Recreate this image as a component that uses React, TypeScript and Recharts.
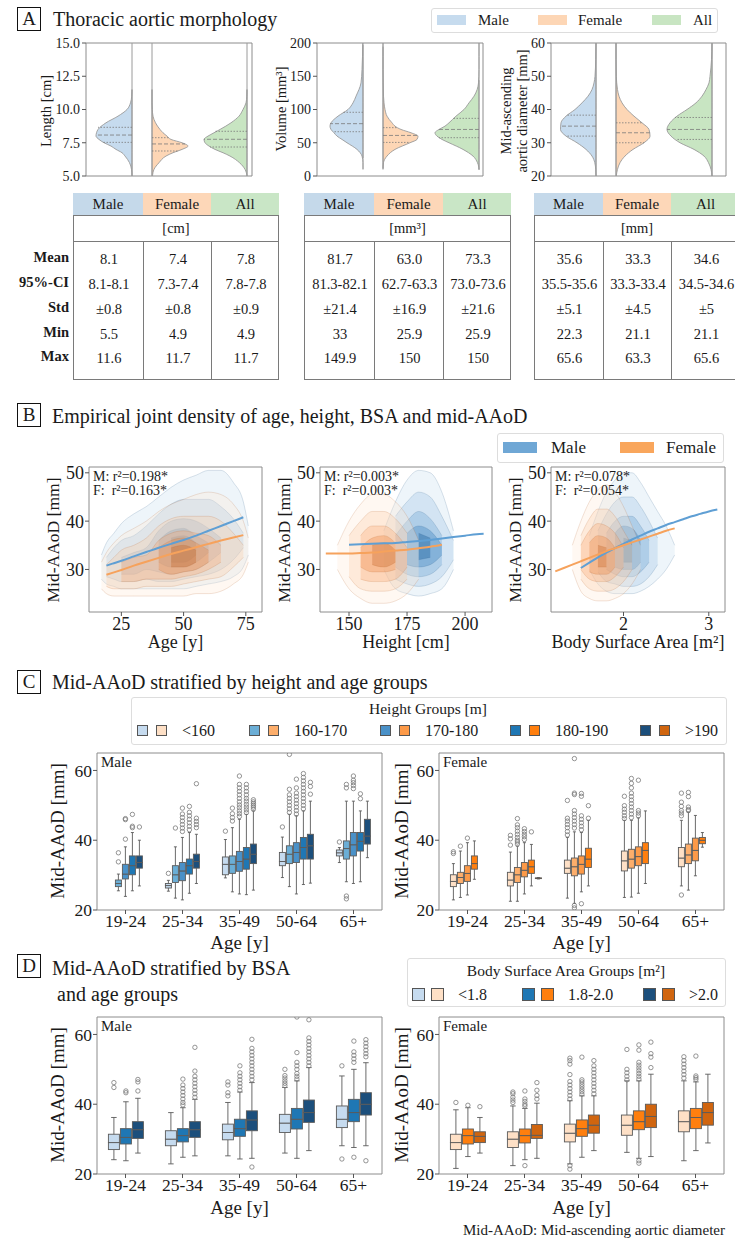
import React from "react";
import { Area, Bar, BarChart, ComposedChart, Line, ReferenceArea, ReferenceLine, XAxis, YAxis } from "recharts";

const FONT = '"Liberation Serif", "Times New Roman", serif';
const INK = "#1a1a1a";
const FRAME = "#8c8c8c";
const EDGE = "#5a5a5a";

// ---------- A: violins (half-widths, in plot px) ----------
const lengthY = [5.0, 5.5, 6.0, 6.5, 6.75, 7.0, 7.25, 7.5, 7.75, 8.0, 8.25, 8.5, 9.0, 9.5, 10.0, 10.5, 11.0, 11.5];
const lengthMale = [0, 0.5, 2.5, 7, 10, 16, 21, 28, 33, 36, 35.5, 34, 26, 14, 5, 1.5, 0.3, 0];
const lengthFemale = [0.5, 2, 7, 14, 21, 30, 36, 30, 19, 15, 11, 8, 3.5, 1, 0.3, 0, 0, 0];
const lengthAll = [0, 2, 7.5, 17, 24, 32, 38, 42, 43, 39, 33, 27, 16, 8, 4, 1, 0.2, 0];
const lengthQuart = [[7.53, 8.08, 8.66], [6.88, 7.41, 7.88], [7.18, 7.76, 8.36]];
const lengthQuartW = [[29, 36, 34], [26, 33, 17], [37, 43, 32]];

const volumeY = [10, 20, 30, 40, 50, 55, 60, 65, 70, 75, 80, 90, 100, 110, 120, 140, 160, 180, 200];
const volumeMale = [0, 0, 1, 6, 16, 21, 26, 29, 32, 33, 32, 25, 15, 10, 7, 2, 1, 0.5, 0.3];
const volumeFemale = [0, 0.5, 4, 12, 27, 34, 35, 28, 18, 12, 9, 4, 2, 1, 0.5, 0.2, 0, 0, 0];
const volumeAll = [0, 1.5, 6, 16, 30, 37, 42, 44, 40, 34, 30, 23, 15, 10, 5, 0.5, 0, 0, 0];
const volumeQuart = [[66.6, 78.7, 95.8], [50.5, 61, 72.7], [57.6, 70, 86.7]];
const volumeQuartW = [[30, 33, 20], [27, 35, 15], [40, 40, 26]];

const diamY = [20, 22, 24, 26, 28, 30, 32, 34, 36, 38, 40, 42, 44, 46, 48, 50, 55, 60];
const diamMale = [0, 0.3, 1.2, 4, 10, 19, 30, 35.5, 35, 30, 21, 14, 8, 4, 2, 1, 0.3, 0];
const diamFemale = [0.3, 1.5, 4, 9, 17, 28, 34, 33, 26, 18, 11, 6, 3, 1.5, 0.7, 0.3, 0, 0];
const diamAll = [0, 1, 3.5, 8, 18, 32, 41, 45, 42, 35, 25, 16, 10, 6, 3, 2, 0.5, 0];
const diamQuart = [[32, 35, 38.3], [30, 33, 36], [31, 34, 37.6]];
const diamQuartW = [[30, 35, 29], [28, 34, 26], [36, 45, 37]];

// ---------- A: tables ----------
const tableHeads = ["Male", "Female", "All"];
const rowLabels = ["Mean", "95%-CI", "Std", "Min", "Max"];
const lengthStats = [["8.1", "7.4", "7.8"], ["8.1-8.1", "7.3-7.4", "7.8-7.8"], ["±0.8", "±0.8", "±0.9"], ["5.5", "4.9", "4.9"], ["11.6", "11.7", "11.7"]];
const volumeStats = [["81.7", "63.0", "73.3"], ["81.3-82.1", "62.7-63.3", "73.0-73.6"], ["±21.4", "±16.9", "±21.6"], ["33", "25.9", "25.9"], ["149.9", "150", "150"]];
const diamStats = [["35.6", "33.3", "34.6"], ["35.5-35.6", "33.3-33.4", "34.5-34.6"], ["±5.1", "±4.5", "±5"], ["22.3", "21.1", "21.1"], ["65.6", "63.3", "65.6"]];

// ---------- B: density bands [x, low, high], outer level first ----------
const ageGrid = [17, 19, 22, 25, 30, 35, 40, 45, 50, 55, 60, 65, 70, 74, 76];
const ageMale = [
  [[17, 28, 33], [19, 27, 35.5], [22, 26.5, 37.5], [25, 26, 39.5], [30, 26, 41.5], [35, 26, 43], [40, 26, 45], [45, 26, 47], [50, 26, 48.5], [55, 26.5, 49.5], [60, 27, 50.5], [65, 27.5, 50.5], [70, 28.5, 48], [74, 30.5, 44], [76, 33, 39]],
  [[19, 28.5, 32.5], [22, 28, 34.5], [25, 27.5, 36], [30, 27.5, 37], [35, 28, 39], [40, 27.5, 41.5], [45, 27.5, 43.5], [50, 28, 44.5], [55, 28.5, 44.5], [60, 29, 44.5], [65, 30, 43], [70, 32, 40.5], [74, 34.5, 37.5]],
  [[25, 29, 32.5], [30, 29, 33.5], [35, 30, 34.5], [40, 29.5, 38], [45, 29, 40], [50, 29.5, 40.5], [55, 30, 40], [60, 31.5, 38.5], [65, 33.5, 36.5]],
  [[40, 31.5, 36], [45, 30.5, 38], [50, 30.5, 38.5], [55, 31.5, 37], [60, 33.5, 35.5]],
  [[45, 31.5, 36.5], [50, 31.5, 37], [55, 33, 35.5]],
];
const ageFemale = [
  [[17, 26, 31.5], [19, 25, 33.5], [22, 24.5, 35.5], [25, 24.5, 37], [30, 24.5, 38.5], [35, 24.5, 40], [40, 24.5, 42], [45, 24.5, 43.5], [50, 24.5, 44.5], [55, 25, 45.5], [60, 25, 46], [65, 25.5, 45.5], [70, 27, 43.5], [74, 29, 40], [76, 31.5, 36.5]],
  [[19, 26.5, 31], [22, 26, 32.5], [25, 26, 34], [30, 26, 35], [35, 26.5, 36.5], [40, 26.5, 39], [45, 26.5, 40.5], [50, 27, 41], [55, 27.5, 41], [60, 28, 41], [65, 28.5, 40], [70, 30.5, 37.5], [74, 32.5, 35]],
  [[25, 27.5, 31.5], [30, 27.5, 32.5], [35, 28, 33], [40, 28, 36], [45, 28, 37.5], [50, 28.5, 38], [55, 29, 37.5], [60, 30, 37], [65, 31.5, 35]],
  [[40, 30, 34.5], [45, 29, 36], [50, 29.5, 36.5], [55, 30, 35.5], [60, 31.5, 34]],
  [[45, 30.5, 34.5], [50, 30.5, 35], [55, 31.5, 34]],
];
const ageFitMale = [[19, 30.8], [22, 31.3], [25, 31.8], [30, 32.7], [35, 33.6], [40, 34.5], [45, 35.3], [50, 36.1], [55, 37.0], [60, 38.0], [65, 39.0], [70, 40.0], [74, 40.8]];
const ageFitFemale = [[19, 28.9], [22, 29.4], [25, 29.9], [30, 30.8], [35, 31.6], [40, 32.4], [45, 33.2], [50, 33.9], [55, 34.6], [60, 35.3], [65, 36.0], [70, 36.6], [74, 37.1]];

const heightGrid = [140, 143, 145, 150, 155, 160, 165, 170, 175, 180, 185, 190, 195, 200, 205, 208];
const heightMale = [
  [[165, 30, 38], [170, 26, 44], [175, 25, 48.5], [180, 24.5, 50.5], [185, 25, 50], [190, 26, 46], [195, 30, 38]],
  [[170, 28, 41], [175, 27, 44], [180, 26.5, 46], [185, 27, 45], [190, 28.5, 41], [195, 32, 36]],
  [[170, 30.5, 37], [175, 29, 40], [180, 28.5, 42], [185, 29, 40.5], [190, 31, 37]],
  [[175, 31, 37.5], [180, 30.5, 39], [185, 31, 38], [190, 33, 35]],
  [[180, 32, 37.5], [185, 32.5, 36.5]],
];
const heightFemale = [
  [[145, 30, 35], [150, 26, 40], [155, 24, 43.5], [160, 23, 45.5], [165, 23, 45.5], [170, 23.5, 44], [175, 25, 41], [180, 28, 36]],
  [[150, 28.5, 37], [155, 26, 40], [160, 25.5, 42], [165, 25.5, 42], [170, 26, 40.5], [175, 28, 37.5]],
  [[155, 28, 37], [160, 27.5, 39], [165, 27.5, 39], [170, 28, 37.5], [175, 30.5, 34.5]],
  [[155, 30.5, 34.5], [160, 29.5, 36.5], [165, 29.5, 37], [170, 30, 35.5]],
  [[160, 31, 35], [165, 30.5, 35.5], [170, 31.5, 34]],
];
const heightFitMale = [[150, 35.1], [155, 35.2], [160, 35.3], [165, 35.4], [170, 35.5], [175, 35.7], [180, 35.9], [185, 36.1], [190, 36.4], [195, 36.7], [200, 37.0], [205, 37.3], [208, 37.4]];
const heightFitFemale = [[140, 33.3], [143, 33.3], [145, 33.3], [150, 33.3], [155, 33.4], [160, 33.5], [165, 33.7], [170, 33.9], [175, 34.1], [180, 34.4], [185, 34.7], [190, 35.1]];

const bsaGrid = [1.2, 1.3, 1.4, 1.5, 1.6, 1.7, 1.8, 1.9, 2.0, 2.1, 2.2, 2.3, 2.4, 2.5, 2.6, 2.7, 2.8, 2.9, 3.0, 3.1];
const bsaMale = [
  [[1.6, 30, 37], [1.7, 27, 42], [1.8, 25.5, 46], [1.9, 25, 48.5], [2.0, 25, 50], [2.1, 25, 50], [2.2, 25.5, 48], [2.3, 26.5, 45], [2.4, 28, 42], [2.5, 30, 39], [2.6, 33, 35]],
  [[1.7, 29.5, 38], [1.8, 27.5, 41.5], [1.9, 27, 44], [2.0, 26.5, 45], [2.1, 26.5, 45], [2.2, 27, 43], [2.3, 28.5, 40], [2.4, 31, 36.5]],
  [[1.8, 30, 37.5], [1.9, 29, 40], [2.0, 28.5, 41], [2.1, 28.5, 41], [2.2, 29.5, 39], [2.3, 31.5, 36]],
  [[1.9, 30.5, 37.5], [2.0, 30, 39], [2.1, 30, 38.5], [2.2, 31.5, 36]],
  [[2.0, 31.5, 36.5], [2.1, 31.5, 36]],
];
const bsaFemale = [
  [[1.4, 30, 35], [1.5, 25.5, 40], [1.6, 24, 44], [1.7, 23.5, 46.5], [1.8, 23.5, 47.5], [1.9, 24, 46], [2.0, 25, 43], [2.1, 27, 39], [2.2, 30, 35]],
  [[1.5, 28, 37], [1.6, 26, 40.5], [1.7, 25.5, 42.5], [1.8, 25.5, 42.5], [1.9, 26, 41], [2.0, 27.5, 38], [2.1, 30, 35]],
  [[1.5, 30, 35], [1.6, 28, 38], [1.7, 27.5, 39.5], [1.8, 27.5, 39], [1.9, 28.5, 37.5], [2.0, 30.5, 34.5]],
  [[1.6, 29.5, 35.5], [1.7, 29, 37], [1.8, 29, 36.5], [1.9, 30.5, 34.5]],
  [[1.7, 30.5, 35], [1.8, 30.5, 34.5]],
];
const bsaFitMale = [[1.5, 30.3], [1.6, 31.4], [1.7, 32.5], [1.8, 33.5], [1.9, 34.4], [2.0, 35.3], [2.1, 36.2], [2.2, 37.0], [2.3, 37.8], [2.4, 38.5], [2.5, 39.2], [2.6, 39.8], [2.7, 40.4], [2.8, 41.0], [2.9, 41.5], [3.0, 42.0], [3.1, 42.4]];
const bsaFitFemale = [[1.2, 29.6], [1.3, 30.3], [1.4, 31.0], [1.5, 31.7], [1.6, 32.4], [1.7, 33.1], [1.8, 33.8], [1.9, 34.4], [2.0, 35.0], [2.1, 35.6], [2.2, 36.2], [2.3, 36.8], [2.4, 37.4], [2.5, 38.0], [2.6, 38.5]];

// ---------- C / D: box stats [whiskerLow, q1, median, q3, whiskerHigh] ----------
const ageGroups = ["19-24", "25-34", "35-49", "50-64", "65+"];
const heightGroups = ["<160", "160-170", "170-180", "180-190", ">190"];
const bsaGroups = ["<1.8", "1.8-2.0", ">2.0"];

const cMaleStats = [
  [null, [25.4, 26.3, 27.0, 27.6, 28.5], [29.2, 30.1, 33.1, 35.2, 40.2], [29.3, 32.7, 33.9, 36.5, 40.9], [33.6, 35.5, 36.4, 37.2, 37.9]],
  [[25.5, 26.7, 27.6, 28.6, 30.3], [23.4, 27.9, 30.1, 32.7, 38.1], [25.2, 30.5, 33.1, 35.5, 43.6], [26.7, 33.3, 36.0, 38.4, 47.4], [28.1, 34.6, 37.6, 39.8, 51.2]],
  [[23.9, 28.9, 30.3, 33.1, 38.1], [22.9, 28.4, 31.2, 33.6, 40.8], [24.6, 31.1, 33.9, 36.8, 46.0], [24.6, 33.6, 36.5, 39.3, 47.0], [27.6, 35.5, 38.7, 42.2, 51.2]],
  [[25.5, 30.1, 32.7, 35.5, 42.2], [24.8, 30.3, 32.7, 34.6, 42.2], [24.4, 31.7, 34.6, 37.9, 47.4], [27.3, 34.6, 37.9, 40.8, 48.4], [28.1, 36.9, 39.7, 42.2, 48.4]],
  [[26.9, 32.0, 33.6, 35.5, 40.0], [27.6, 32.0, 33.9, 36.0, 41.7], [25.7, 33.3, 36.0, 38.9, 48.4], [27.7, 34.6, 38.4, 41.7, 51.2], [35.0, 38.9, 41.2, 46.0, 51.2]],
];
const cMaleOut = [
  [[], [30.5], [42.6], [43.8], [39.5]],
  [[33.8, 36.4], [43.5], [45.5, 46.5, 47.6, 49.2], [48, 49, 50, 51, 52, 53, 54.6, 64.6], [55, 56, 24.0, 23.2]],
  [[40.3, 45.9, 46.2], [42.5, 43.5, 44.5, 45.5, 46.5, 47.5, 49.2], [46.8, 47.6, 48.4, 49.3, 50.1, 51, 52, 53, 54, 55, 56, 58.4], [47.5, 48.5, 49.5, 50.5, 51.5, 52.5, 53.5, 55, 57.5], [54.8, 55.7, 56.5, 57.2, 58.4]],
  [[43.6, 44.0, 47.4], [43, 44, 45, 46, 47, 48, 49.7], [47.9, 48.7, 49.5, 50.3, 51.2, 52, 53, 54, 55, 56], [49, 50, 51, 52, 53, 54, 55, 56, 57, 58, 59.1], [51.9, 53.3]],
  [[43.8], [43.6, 44.5, 45.4, 46.3, 56.2], [48.9, 49.5, 50, 50.5, 51, 51.6], [53.2, 55.4, 56.6], []],
];
const cFemaleStats = [
  [[22.9, 26.7, 28.2, 30.1, 33.3], [22.5, 26.9, 28.6, 30.8, 36.6], [23.4, 30.5, 32.0, 34.3, 40.8], [23.6, 31.2, 34.1, 36.9, 45.7], [26.9, 32.4, 34.9, 37.9, 45.7]],
  [[23.6, 27.6, 29.3, 30.8, 36.9], [22.5, 27.9, 30.1, 32.2, 38.3], [21.9, 29.8, 32.4, 34.9, 42.4], [23.7, 32.0, 34.6, 37.4, 45.7], [25.7, 33.3, 35.8, 38.9, 48.0]],
  [[24.3, 28.2, 30.5, 32.7, 39.3], [24.6, 29.5, 31.4, 33.6, 39.3], [25.2, 30.3, 33.1, 35.5, 42.2], [24.8, 32.7, 35.3, 38.1, 46.4], [29.8, 34.1, 37.1, 40.6, 47.1]],
  [[28.8, 31.7, 33.3, 35.5, 39.8], [26.9, 30.5, 32.4, 34.3, 38.8], [26.9, 32.2, 34.6, 37.7, 45.7], [27.6, 33.3, 37.1, 39.3, 48.4], [38.0, 39.0, 40.0, 40.8, 42.2]],
  [null, [28.9, 29.0, 29.1, 29.2, 29.3], null, null, null],
];
const cFemaleOut = [
  [[36.2, 36.7], [38.6, 40.4, 41.4], [41.5, 42.5, 43.6, 44.5, 45.5, 46.3, 51.4], [46.2, 47, 48, 48.9, 49.9, 52.6], [47, 47.8, 48.5, 49.7, 50.9, 53.5, 24.3]],
  [[38.3], [38.9, 39.5, 40, 40.8, 41.7, 42.6, 43.6, 44.4, 46.2], [43.5, 44.5, 45.5, 46.5, 47.5, 48.5, 53.1, 53.5, 63.4, 21.3, 20.6], [46.5, 47.5, 48.5, 49.5, 50.5, 51.5, 52.5, 53.5, 55, 56.3, 57.7], [48.5, 48.8, 49.5, 52.5, 53.7]],
  [[40.6], [40.2, 41, 41.7, 42.5, 43.3], [43, 44, 45, 46, 47, 52.6, 53.4, 21.8], [47, 47.8, 48.5, 57.2], []],
  [[], [42.4], [46.3, 49.9], [], []],
  [[], [], [], [], []],
];

const dMaleStats = [
  [[24.1, 27.0, 29.0, 31.4, 36.2], [22.9, 28.1, 30.0, 32.4, 37.6], [25.2, 29.8, 31.9, 34.3, 40.5], [26.0, 31.9, 34.6, 37.1, 44.8], [28.1, 33.3, 35.7, 39.5, 48.1]],
  [[23.8, 28.6, 30.5, 33.0, 40.7], [24.8, 29.2, 31.0, 33.0, 39.0], [24.3, 30.8, 33.0, 35.7, 43.5], [24.5, 32.9, 35.7, 38.8, 46.7], [27.6, 35.0, 37.6, 41.4, 50.0]],
  [[26.0, 30.2, 32.7, 35.0, 41.7], [25.2, 30.5, 32.7, 35.0, 41.4], [24.5, 32.4, 35.5, 38.1, 46.2], [26.7, 34.8, 37.6, 41.2, 50.5], [28.1, 36.9, 40.0, 43.3, 51.9]],
];
const dMaleOut = [
  [[44.8, 46.2], [], [42.4, 43.3, 45.5, 46.4], [45.3, 46, 46.7, 47.5, 48.2, 50], [51, 24.3]],
  [[43.3, 43.8], [39.8, 40.5, 41.5, 42.5, 43.5, 44.5, 45.5, 47.2], [44, 45, 46, 47, 48, 49, 51], [47.2, 48, 48.8, 50, 51, 52, 54.8, 65], [52, 53, 54, 55, 58.1, 24.8]],
  [[43.8, 46.4, 47.1], [42, 43, 44, 45, 46, 47, 48, 49.5, 56.3], [47, 48, 49, 50, 51, 52, 53, 54, 55, 56, 58.6, 22], [51, 52, 53, 54, 55, 56, 57, 58, 59, 64.2], [53.6, 54.5, 55.5, 56.5, 57.5, 58.5, 23.8]],
];
const dFemaleStats = [
  [[21.6, 27.0, 29.0, 31.4, 38.4], [22.4, 27.6, 30.0, 32.1, 39.5], [22.9, 29.2, 31.7, 34.3, 41.0], [26.2, 31.1, 34.0, 36.9, 46.7], [23.8, 32.1, 35.0, 38.1, 46.7]],
  [[25.0, 28.6, 31.0, 32.9, 39.0], [24.1, 28.9, 31.0, 32.9, 38.8], [24.8, 30.8, 33.0, 35.5, 42.4], [24.5, 32.7, 35.0, 38.1, 46.7], [26.7, 33.0, 36.2, 38.8, 46.4]],
  [[26.0, 29.0, 30.8, 32.1, 36.2], [24.5, 30.2, 31.1, 34.2, 40.3], [26.7, 31.7, 34.0, 36.9, 42.4], [25.0, 33.3, 36.5, 40.0, 48.6], [28.9, 34.0, 37.6, 40.5, 48.6]],
];
const dFemaleOut = [
  [[40.5], [40.5, 41.2, 42, 43, 43.5], [41.5, 42.5, 43.5, 44.5, 45.5, 46.5, 48.5, 51.5, 52.5, 53.2, 22.4, 21.4], [47, 48, 49, 50, 55.7], [47.5, 48.5, 49.5, 50.5, 51.5, 52.5, 53.6]],
  [[39.7], [39.5, 40, 40.8, 41.5, 43.8, 22.4], [42.9, 43.6, 44.3, 45, 45.7, 46.4, 47, 53.5], [47.2, 48, 48.8, 49.6, 50.4, 51.2, 52, 55.5, 57, 23.8, 23.1], [47.1, 47.6, 48.1, 53.8]],
  [[39.3], [41.5, 42.5, 44, 46.2], [43, 44, 45, 46, 47, 48, 49, 50, 51, 52.5], [50.5, 53.5, 54.5, 57.8], []],
];

const heightBlues = ["#c6dbef", "#6baed6", "#4a91c8", "#1f77b4", "#1c4f7c"];
const heightOranges = ["#fee0c6", "#fdae6b", "#fd9a48", "#ff7f0e", "#d0650f"];
const bsaBlues = ["#c6dbef", "#1f77b4", "#1c4f7c"];
const bsaOranges = ["#fee0c6", "#ff7f0e", "#d0650f"];
const densityBlues = ["#d9e8f5", "#b2d1eb", "#82b3dc", "#5090c8", "#2b6aa3"];
const densityOranges = ["#fee7d4", "#fdcaa2", "#fba66c", "#ee8139", "#c25c1c"];

// ---------- helpers ----------
function Txt({ x, y, size = 15, anchor = "middle", rotate = 0, bold = false, children }: any) {
  const tx = anchor === "start" ? "0" : anchor === "end" ? "-100%" : "-50%";
  return (
    <div style={{ position: "absolute", left: x, top: y, transform: `translate(${tx}, -50%) rotate(${rotate}deg)`, fontSize: size, fontWeight: bold ? 700 : 400, whiteSpace: "nowrap", lineHeight: 1.1, color: INK, textAlign: "center" }}>
      {children}
    </div>
  );
}

function LetterBox({ x, y, letter }: any) {
  return (
    <div style={{ position: "absolute", left: x, top: y, width: 24, height: 24, border: "1.4px solid #111", boxSizing: "border-box", display: "flex", alignItems: "center", justifyContent: "center", fontSize: 19, color: INK }}>
      {letter}
    </div>
  );
}

const vioFills = ["#c6dbee", "#fdd6b5", "#c8e5c2"];
const vioSide = [-1, 1, -1];

function Violin({ left, w, ys, series, centers, spans, quart, quartW, domain, ticks, fmt }: any) {
  const top = 43;
  const h = 133;
  const yw = 40;
  const keys = ["male", "female", "all"];
  const rows = ys.map((y: number, i: number) => {
    const r: any = { y };
    keys.forEach((k, j) => {
      const c = centers[j];
      const d = series[j][i];
      r[k] = vioSide[j] < 0 ? [c - d, c] : [c, c + d];
    });
    return r;
  });
  return (
    <div style={{ position: "absolute", left: left - yw, top: top - 8 }}>
      <ComposedChart layout="vertical" width={yw + w + 2} height={h + 16} data={rows} margin={{ top: 8, right: 2, bottom: 8, left: 0 }}>
        <XAxis type="number" domain={[0, w]} hide allowDataOverflow />
        <YAxis type="number" dataKey="y" domain={domain} ticks={ticks} reversed allowDataOverflow width={yw} axisLine={false} tickSize={4} tickMargin={2} tickLine={{ stroke: "#555" }} tickFormatter={fmt} tick={{ fontSize: 14, fill: INK }} />
        <ReferenceArea y1={domain[0]} y2={domain[1]} fill="none" stroke={FRAME} ifOverflow="visible" />
        {keys.map((k, j) => (
          <Area key={k} dataKey={k} type="monotone" fill={vioFills[j]} fillOpacity={1} stroke="#9a9a9a" strokeWidth={0.9} dot={false} activeDot={false} isAnimationActive={false} />
        ))}
        {centers.map((c: number, j: number) => (
          <ReferenceLine key={`c${j}`} segment={[{ x: c, y: spans[j][0] }, { x: c, y: spans[j][1] }]} stroke="#9a9a9a" strokeWidth={1} ifOverflow="visible" />
        ))}
        {quart.map((qs: number[], j: number) =>
          qs.map((q, qi) => (
            <ReferenceLine key={`q${j}${qi}`} segment={[{ x: centers[j], y: q }, { x: centers[j] + vioSide[j] * quartW[j][qi], y: q }]} stroke="#7a7a7a" strokeWidth={0.8} strokeDasharray={qi === 1 ? "4 2" : "1.5 1.5"} ifOverflow="visible" />
          ))
        )}
      </ComposedChart>
    </div>
  );
}

const headFills = ["#c5d9ea", "#fdd7b8", "#c9e6c6"];
const bodyRowY = [65, 90, 115, 140, 164];

function StatTable({ left, widths, unit, stats }: any) {
  const xs: number[] = [];
  let acc = 0;
  widths.forEach((w: number) => { xs.push(acc); acc += w; });
  const line = "1px solid #7a7a7a";
  return (
    <div style={{ position: "absolute", left, top: 193, width: acc, height: 187, border: line, boxSizing: "border-box" }}>
      {tableHeads.map((t, i) => (
        <div key={t} style={{ position: "absolute", left: xs[i] - 1, top: -1, width: widths[i] + (i === 2 ? 0 : 1), height: 23, background: headFills[i], borderRight: i < 2 ? line : undefined, borderBottom: line, boxSizing: "border-box", display: "flex", alignItems: "center", justifyContent: "center", fontSize: 15, color: INK }}>
          {t}
        </div>
      ))}
      <div style={{ position: "absolute", left: 0, right: 0, top: 22, height: 26, borderBottom: line, boxSizing: "border-box", display: "flex", alignItems: "center", justifyContent: "center", fontSize: 14.5, color: INK }}>
        {unit}
      </div>
      {[1, 2].map((i) => (
        <div key={i} style={{ position: "absolute", left: xs[i] - 1, top: 48, height: 138, borderLeft: line }} />
      ))}
      {stats.map((row: string[], ri: number) =>
        row.map((v, ci) => (
          <div key={`${ri}-${ci}`} style={{ position: "absolute", left: xs[ci], width: widths[ci], top: bodyRowY[ri] - 9, height: 18, display: "flex", alignItems: "center", justifyContent: "center", fontSize: 14.5, color: INK, whiteSpace: "nowrap" }}>
            {v}
          </div>
        ))
      )}
    </div>
  );
}

function Density({ left, width, grid, male, female, fitM, fitF, domain, ticks }: any) {
  const top = 467;
  const h = 145;
  const yw = 40;
  const rows = grid.map((x: number) => {
    const r: any = { x };
    male.forEach((lvl: number[][], i: number) => { const b = lvl.find((p) => p[0] === x); if (b) r[`m${i}`] = [b[1], b[2]]; });
    female.forEach((lvl: number[][], i: number) => { const b = lvl.find((p) => p[0] === x); if (b) r[`f${i}`] = [b[1], b[2]]; });
    const a = fitM.find((p: number[]) => p[0] === x);
    if (a) r.fm = a[1];
    const b = fitF.find((p: number[]) => p[0] === x);
    if (b) r.ff = b[1];
    return r;
  });
  return (
    <div style={{ position: "absolute", left: left - yw, top: top - 8 }}>
      <ComposedChart width={yw + width + 4} height={8 + h + 28} data={rows} margin={{ top: 8, right: 4, bottom: 0, left: 0 }}>
        <XAxis type="number" dataKey="x" domain={domain} ticks={ticks} allowDataOverflow height={28} axisLine={false} tickSize={4} tickMargin={1} tickLine={{ stroke: "#555" }} tick={{ fontSize: 18, fill: INK }} />
        <YAxis type="number" domain={[21.2, 51.2]} ticks={[30, 40, 50]} allowDataOverflow width={yw} axisLine={false} tickSize={4} tickMargin={1} tickLine={{ stroke: "#555" }} tick={{ fontSize: 18, fill: INK }} />
        <ReferenceArea y1={21.2} y2={51.2} fill="none" stroke={FRAME} ifOverflow="visible" />
        {male.map((_: any, i: number) => (
          <Area key={`m${i}`} dataKey={`m${i}`} type="monotone" fill={densityBlues[i]} fillOpacity={0.45} stroke="#2f5f8a" strokeOpacity={0.3} strokeWidth={0.6} dot={false} activeDot={false} isAnimationActive={false} />
        ))}
        {female.map((_: any, i: number) => (
          <Area key={`f${i}`} dataKey={`f${i}`} type="monotone" fill={densityOranges[i]} fillOpacity={0.3} stroke="#b8642a" strokeOpacity={0.3} strokeWidth={0.6} dot={false} activeDot={false} isAnimationActive={false} />
        ))}
        <Line dataKey="fm" type="monotone" stroke="#5f9fd4" strokeWidth={2} dot={false} activeDot={false} isAnimationActive={false} />
        <Line dataKey="ff" type="monotone" stroke="#f6a25c" strokeWidth={2} dot={false} activeDot={false} isAnimationActive={false} />
      </ComposedChart>
    </div>
  );
}

function whiskerShape(gi: number, low: boolean) {
  return (p: any) => {
    const s = p.payload && p.payload[`s${gi}`];
    if (!s || !(p.height > 0)) return <g />;
    const span = low ? s[1] - s[0] : s[4] - s[3];
    const k = p.height / span;
    const cx = p.x + p.width / 2;
    const end = low ? p.y + p.height : p.y;
    const cap = p.width * 0.25;
    const outs: number[] = (p.payload[`o${gi}`] || []).filter((o: number) => (low ? o < s[0] : o > s[4]));
    return (
      <g>
        <line x1={cx} x2={cx} y1={p.y} y2={p.y + p.height} stroke={EDGE} strokeWidth={0.9} />
        <line x1={cx - cap} x2={cx + cap} y1={end} y2={end} stroke={EDGE} strokeWidth={0.9} />
        {outs.map((o, i) => (
          <circle key={i} cx={cx} cy={low ? end + (s[0] - o) * k : end - (o - s[4]) * k} r={2.2} fill="none" stroke="#7a7a7a" strokeWidth={0.8} />
        ))}
      </g>
    );
  };
}

function boxShape(gi: number, color: string) {
  return (p: any) => {
    const s = p.payload && p.payload[`s${gi}`];
    if (!s || !(p.height > 0)) return <g />;
    return <rect x={p.x} y={p.y} width={p.width} height={p.height} fill={color} stroke={EDGE} strokeWidth={0.9} />;
  };
}

function BoxPanel({ left, top, stats, outs, colors }: any) {
  const W = 285;
  const H = 157;
  const yw = 44;
  const rows = ageGroups.map((cat, ci) => {
    const r: any = { cat };
    stats.forEach((grp: any[], gi: number) => {
      const s = grp[ci];
      if (!s) return;
      r[`b${gi}`] = s[0];
      r[`lw${gi}`] = s[1] - s[0];
      r[`lo${gi}`] = s[2] - s[1];
      r[`hi${gi}`] = s[3] - s[2];
      r[`uw${gi}`] = s[4] - s[3];
      r[`s${gi}`] = s;
      r[`o${gi}`] = outs[gi][ci];
    });
    return r;
  });
  return (
    <div style={{ position: "absolute", left: left - yw, top: top - 6 }}>
      <BarChart width={yw + W + 4} height={6 + H + 26} data={rows} margin={{ top: 6, right: 4, bottom: 0, left: 0 }} barCategoryGap="20%" barGap={1}>
        <XAxis dataKey="cat" height={26} interval={0} axisLine={false} tickSize={4} tickMargin={1} tickLine={{ stroke: "#555" }} tick={{ fontSize: 17.5, fill: INK }} />
        <YAxis type="number" domain={[20, 65]} ticks={[20, 40, 60]} allowDataOverflow width={yw} axisLine={false} tickSize={4} tickMargin={1} tickLine={{ stroke: "#555" }} tick={{ fontSize: 17.5, fill: INK }} />
        <ReferenceArea y1={20} y2={65} fill="none" stroke={FRAME} ifOverflow="visible" />
        {stats.map((_: any, gi: number) => [
          <Bar key={`b${gi}`} dataKey={`b${gi}`} stackId={`g${gi}`} shape={() => <g />} isAnimationActive={false} />,
          <Bar key={`lw${gi}`} dataKey={`lw${gi}`} stackId={`g${gi}`} shape={whiskerShape(gi, true)} isAnimationActive={false} />,
          <Bar key={`lo${gi}`} dataKey={`lo${gi}`} stackId={`g${gi}`} shape={boxShape(gi, colors[gi])} isAnimationActive={false} />,
          <Bar key={`hi${gi}`} dataKey={`hi${gi}`} stackId={`g${gi}`} shape={boxShape(gi, colors[gi])} isAnimationActive={false} />,
          <Bar key={`uw${gi}`} dataKey={`uw${gi}`} stackId={`g${gi}`} shape={whiskerShape(gi, false)} isAnimationActive={false} />,
        ])}
      </BarChart>
    </div>
  );
}

function Swatch({ x, y, w, h, color }: any) {
  return <div style={{ position: "absolute", left: x, top: y, width: w, height: h, background: color, border: "1px solid #555", boxSizing: "border-box" }} />;
}

export default function App() {
  return (
    <div style={{ position: "absolute", left: 0, top: 0, width: 735, height: 1239, overflow: "hidden", background: "#fff", fontFamily: FONT, color: INK }}>
      {/* ---- A ---- */}
      <LetterBox x={17} y={7} letter="A" />
      <Txt x={53} y={19} size={20} anchor="start">Thoracic aortic morphology</Txt>
      <div style={{ position: "absolute", left: 431, top: 8, width: 287, height: 25, border: "1px solid #ddd", borderRadius: 3, boxSizing: "border-box" }} />
      {["Male", "Female", "All"].map((t, i) => (
        <React.Fragment key={t}>
          <div style={{ position: "absolute", left: [437, 538, 652][i], top: 15, width: 29, height: 10, background: vioFills[i] }} />
          <Txt x={[478, 578, 693][i]} y={20} size={15} anchor="start">{t}</Txt>
        </React.Fragment>
      ))}

      <Violin left={86} w={166} ys={lengthY} series={[lengthMale, lengthFemale, lengthAll]} centers={[46, 66, 161]} spans={[[5, 15], [5, 15], [5, 15]]} quart={lengthQuart} quartW={lengthQuartW} domain={[5, 15]} ticks={[5, 7.5, 10, 12.5, 15]} fmt={(v: number) => v.toFixed(1)} />
      <Violin left={317} w={166} ys={volumeY} series={[volumeMale, volumeFemale, volumeAll]} centers={[46, 66, 162]} spans={[[27, 197], [11.6, 194.5], [9, 144]]} quart={volumeQuart} quartW={volumeQuartW} domain={[0, 200]} ticks={[0, 50, 100, 150, 200]} fmt={(v: number) => String(v)} />
      <Violin left={551} w={175} ys={diamY} series={[diamMale, diamFemale, diamAll]} centers={[45, 65, 161]} spans={[[20, 60], [20, 60], [20, 60]]} quart={diamQuart} quartW={diamQuartW} domain={[20, 60]} ticks={[20, 30, 40, 50, 60]} fmt={(v: number) => String(v)} />
      <Txt x={47} y={111} size={14.5} rotate={-90}>Length [cm]</Txt>
      <Txt x={282} y={109} size={14.5} rotate={-90}>Volume [mm³]</Txt>
      <Txt x={515} y={111} size={14.5} rotate={-90}>Mid-ascending<br />aortic diameter [mm]</Txt>

      <StatTable left={73} widths={[70, 68, 68]} unit="[cm]" stats={lengthStats} />
      <StatTable left={304} widths={[70, 69, 68]} unit="[mm³]" stats={volumeStats} />
      <StatTable left={534} widths={[69, 68, 69]} unit="[mm]" stats={diamStats} />
      {rowLabels.map((t, i) => (
        <Txt key={t} x={69} y={193 + bodyRowY[i]} size={14.5} anchor="end" bold>{t}</Txt>
      ))}

      {/* ---- B ---- */}
      <LetterBox x={17} y={403} letter="B" />
      <Txt x={52} y={416} size={20} anchor="start">Empirical joint density of age, height, BSA and mid-AAoD</Txt>
      <div style={{ position: "absolute", left: 497, top: 433, width: 227, height: 30, border: "1px solid #ddd", borderRadius: 3, boxSizing: "border-box" }} />
      <div style={{ position: "absolute", left: 503, top: 442, width: 34, height: 11, background: "#6fa7d5" }} />
      <Txt x={551} y={448} size={17} anchor="start">Male</Txt>
      <div style={{ position: "absolute", left: 620, top: 442, width: 34, height: 11, background: "#f9a65c" }} />
      <Txt x={666} y={448} size={17} anchor="start">Female</Txt>

      <Density left={89} width={173} grid={ageGrid} male={ageMale} female={ageFemale} fitM={ageFitMale} fitF={ageFitFemale} domain={[12, 81.5]} ticks={[25, 50, 75]} />
      <Density left={320} width={172} grid={heightGrid} male={heightMale} female={heightFemale} fitM={heightFitMale} fitF={heightFitFemale} domain={[137.5, 211.6]} ticks={[150, 175, 200]} />
      <Density left={551} width={174} grid={bsaGrid} male={bsaMale} female={bsaFemale} fitM={bsaFitMale} fitF={bsaFitFemale} domain={[1.15, 3.19]} ticks={[2, 3]} />
      {[
        [89, "0.198", "0.163"],
        [320, "0.003", "0.003"],
        [551, "0.078", "0.054"],
      ].map(([x, m, f]) => (
        <React.Fragment key={String(x)}>
          <Txt x={(x as number) + 4} y={477} size={14} anchor="start">M: r²={m}*</Txt>
          <Txt x={(x as number) + 4} y={491} size={14} anchor="start">F:&nbsp;&nbsp;r²={f}*</Txt>
        </React.Fragment>
      ))}
      {[54, 285, 516].map((x) => (
        <Txt key={x} x={x} y={540} size={17.5} rotate={-90}>Mid-AAoD [mm]</Txt>
      ))}
      <Txt x={175.5} y={643} size={18}>Age [y]</Txt>
      <Txt x={406} y={643} size={18}>Height [cm]</Txt>
      <Txt x={638} y={643} size={18}>Body Surface Area [m²]</Txt>

      {/* ---- C ---- */}
      <LetterBox x={17} y={670} letter="C" />
      <Txt x={52} y={682} size={20} anchor="start">Mid-AAoD stratified by height and age groups</Txt>
      <div style={{ position: "absolute", left: 131, top: 697, width: 596, height: 48, border: "1px solid #ddd", borderRadius: 3, boxSizing: "border-box" }} />
      <Txt x={428} y={709} size={15.5}>Height Groups [m]</Txt>
      {heightGroups.map((g, i) => {
        const x = [137, 249, 380, 510, 640][i];
        return (
          <React.Fragment key={g}>
            <Swatch x={x} y={725} w={11} h={11} color={heightBlues[i]} />
            <Swatch x={x + 19} y={725} w={11} h={11} color={heightOranges[i]} />
            <Txt x={x + 45} y={731} size={16} anchor="start">{g}</Txt>
          </React.Fragment>
        );
      })}
      <BoxPanel left={97} top={753} stats={cMaleStats} outs={cMaleOut} colors={heightBlues} />
      <BoxPanel left={439} top={753} stats={cFemaleStats} outs={cFemaleOut} colors={heightOranges} />
      <Txt x={101} y={762} size={15} anchor="start">Male</Txt>
      <Txt x={443} y={762} size={15} anchor="start">Female</Txt>
      <Txt x={58} y={831} size={19} rotate={-90}>Mid-AAoD [mm]</Txt>
      <Txt x={402} y={831} size={19} rotate={-90}>Mid-AAoD [mm]</Txt>
      <Txt x={239.5} y={943} size={19}>Age [y]</Txt>
      <Txt x={581.5} y={943} size={19}>Age [y]</Txt>

      {/* ---- D ---- */}
      <LetterBox x={17} y={954} letter="D" />
      <Txt x={52} y={968} size={20} anchor="start">Mid-AAoD stratified by BSA</Txt>
      <Txt x={57} y={994} size={20} anchor="start">and age groups</Txt>
      <div style={{ position: "absolute", left: 407, top: 958, width: 319, height: 49, border: "1px solid #ddd", borderRadius: 3, boxSizing: "border-box" }} />
      <Txt x={566} y={971} size={15.5}>Body Surface Area Groups [m²]</Txt>
      {bsaGroups.map((g, i) => {
        const x = [412, 522, 643][i];
        return (
          <React.Fragment key={g}>
            <Swatch x={x} y={988} w={13} h={13} color={bsaBlues[i]} />
            <Swatch x={x + 19} y={988} w={13} h={13} color={bsaOranges[i]} />
            <Txt x={x + 46} y={995} size={16} anchor="start">{g}</Txt>
          </React.Fragment>
        );
      })}
      <BoxPanel left={97} top={1017} stats={dMaleStats} outs={dMaleOut} colors={bsaBlues} />
      <BoxPanel left={439} top={1017} stats={dFemaleStats} outs={dFemaleOut} colors={bsaOranges} />
      <Txt x={101} y={1026} size={15} anchor="start">Male</Txt>
      <Txt x={443} y={1026} size={15} anchor="start">Female</Txt>
      <Txt x={58} y={1095} size={19} rotate={-90}>Mid-AAoD [mm]</Txt>
      <Txt x={402} y={1095} size={19} rotate={-90}>Mid-AAoD [mm]</Txt>
      <Txt x={239.5} y={1208} size={19}>Age [y]</Txt>
      <Txt x={581.5} y={1208} size={19}>Age [y]</Txt>
      <Txt x={725} y={1230} size={15} anchor="end">Mid-AAoD: Mid-ascending aortic diameter</Txt>
    </div>
  );
}
